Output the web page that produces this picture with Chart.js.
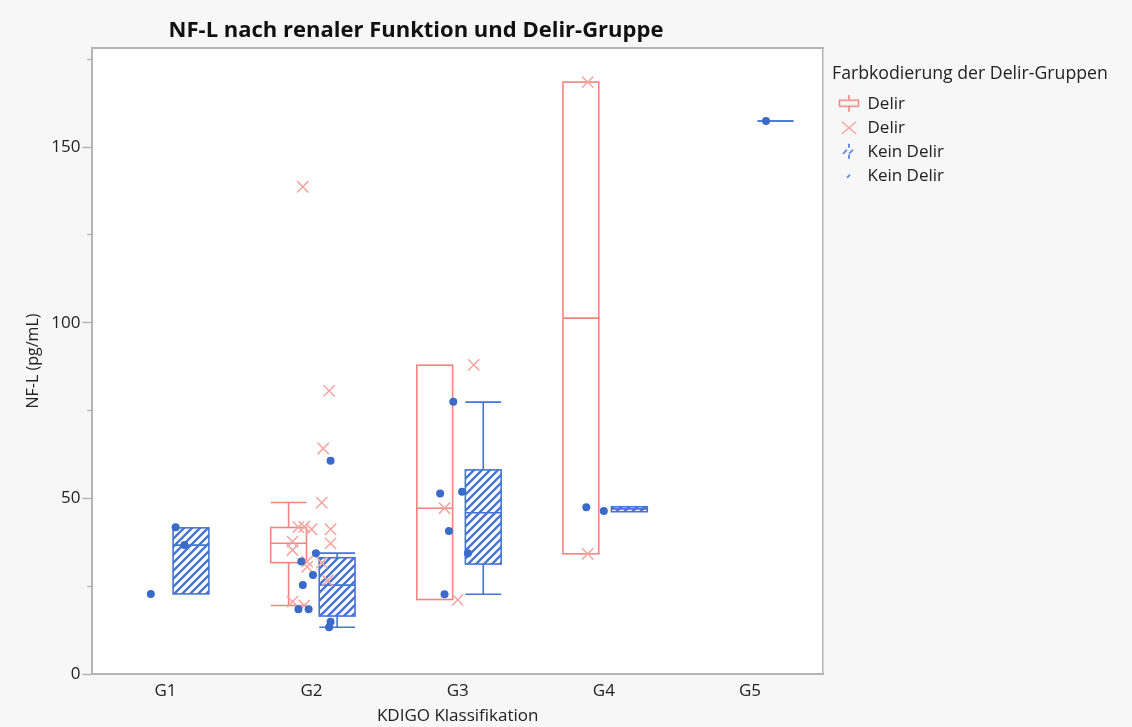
<!DOCTYPE html>
<html>
<head>
<meta charset="utf-8">
<script src="https://cdn.jsdelivr.net/npm/chart.js@4"></script>
<style>
  html, body { margin: 0; padding: 0; background: #f7f7f7; }
</style>
</head>
<body>
<canvas id="nfl" width="1132" height="727"></canvas>
<script>
const categories = ['G1', 'G2', 'G3', 'G4', 'G5'];
const yTicks = [0, 25, 50, 75, 100, 125, 150, 175];
const yLabelled = [0, 50, 100, 150];

// Box statistics per KDIGO class (null = no patients in that group)
const delirLowWhisker = [null, 19.5, 21.2, 34.2, null];
const delirQ1 = [null, 31.7, 21.2, 34.2, null];
const delirMedian = [null, 37.2, 47.2, 101.3, null];
const delirQ3 = [null, 41.7, 87.9, 168.5, null];
const delirHighWhisker = [null, 48.8, 87.9, 168.5, null];

const keinLowWhisker = [22.8, 13.3, 22.7, 46.2, 157.4];
const keinQ1 = [22.8, 16.5, 31.3, 46.2, 157.4];
const keinMedian = [36.7, 25.3, 45.9, 47.0, 157.4];
const keinQ3 = [41.6, 33.1, 58.1, 47.6, 157.4];
const keinHighWhisker = [41.6, 34.4, 77.4, 47.6, 157.4];

// single patients: KDIGO class (1 = G1), horizontal jitter, NF-L value
const delirClass = [2, 2, 2, 2, 2, 2, 2, 2, 2, 2, 2, 2, 2, 2, 2, 2, 2, 3, 3, 3, 4, 4];
const delirJitter = [-0.06, 0.12, 0.08, 0.07, -0.09, -0.05, 0.00, 0.13, -0.13, -0.13, 0.13, -0.03, 0.07, -0.03, 0.11, -0.13, -0.05, 0.11, -0.09, 0.00, -0.11, -0.11];
const delirValues = [138.7, 80.6, 64.2, 48.8, 41.8, 41.9, 41.2, 41.2, 37.7, 35.3, 37.2, 32.0, 31.7, 30.5, 26.6, 20.6, 19.5, 88.0, 47.2, 21.1, 168.5, 34.2];

const keinClass = [1, 1, 1, 2, 2, 2, 2, 2, 2, 2, 2, 2, 3, 3, 3, 3, 3, 3, 4, 4, 5];
const keinJitter = [-0.10, 0.07, 0.13, 0.13, 0.03, -0.07, 0.01, -0.06, -0.09, -0.02, 0.13, 0.12, -0.03, -0.12, 0.03, -0.06, 0.07, -0.09, -0.12, 0.00, 0.11];
const keinValues = [22.8, 41.8, 36.7, 60.7, 34.4, 32.0, 28.2, 25.3, 18.4, 18.4, 14.9, 13.3, 77.5, 51.4, 51.9, 40.7, 34.4, 22.7, 47.5, 46.4, 157.4];

const RED_BOX = '#f2847f';
const RED_MARK = '#f6a4a0';
const BLUE = '#4574d4';
const BLUE_DOT = '#3a6bc8';
const FRAME = '#b4b4b4';
const TEXT = '#222222';
const FONT = '"Open Sans", "Noto Sans", sans-serif';

const DELIR_SHIFT = -0.157;
const KEIN_SHIFT = 0.175;
const BOX_WIDTH = 0.245;
const LEGEND_WIDTH = 290;

Chart.defaults.font.family = FONT;
Chart.defaults.color = TEXT;

function makeIcon(w, h, draw) {
  const c = document.createElement('canvas');
  c.width = w;
  c.height = h;
  draw(c.getContext('2d'));
  return c;
}

const iconDelirBox = makeIcon(22, 18, g => {
  g.strokeStyle = RED_BOX;
  g.lineWidth = 1.5;
  g.strokeRect(1.5, 5.5, 19, 6);
  g.beginPath();
  g.moveTo(11, 0); g.lineTo(11, 5.5);
  g.moveTo(11, 11.5); g.lineTo(11, 17);
  g.stroke();
});

const iconKeinBox = makeIcon(22, 18, g => {
  g.strokeStyle = BLUE;
  g.lineWidth = 1.6;
  g.beginPath();
  g.moveTo(11, 1); g.lineTo(11, 5);
  g.moveTo(11, 12); g.lineTo(11, 16);
  g.moveTo(5, 11); g.lineTo(9, 7);
  g.moveTo(11, 11); g.lineTo(15, 7);
  g.stroke();
});

const iconKeinDot = makeIcon(22, 18, g => {
  g.strokeStyle = BLUE;
  g.lineWidth = 1.6;
  g.beginPath();
  g.moveTo(9, 11); g.lineTo(12, 8);
  g.stroke();
});

const legendItems = [
  { text: 'Delir', pointStyle: iconDelirBox, lineWidth: 0, strokeStyle: RED_BOX, fillStyle: RED_BOX, fontColor: TEXT, hidden: false },
  { text: 'Delir', pointStyle: 'crossRot', lineWidth: 1.5, strokeStyle: RED_MARK, fillStyle: 'transparent', fontColor: TEXT, hidden: false },
  { text: 'Kein Delir', pointStyle: iconKeinBox, lineWidth: 0, strokeStyle: BLUE, fillStyle: BLUE, fontColor: TEXT, hidden: false },
  { text: 'Kein Delir', pointStyle: iconKeinDot, lineWidth: 0, strokeStyle: BLUE, fillStyle: BLUE, fontColor: TEXT, hidden: false }
];

let hatch = null;
function hatchPattern(ctx) {
  if (hatch) return hatch;
  const c = makeIcon(8, 8, g => {
    g.fillStyle = '#ffffff';
    g.fillRect(0, 0, 8, 8);
    g.strokeStyle = BLUE;
    g.lineWidth = 2.3;
    g.beginPath();
    g.moveTo(-2, 10); g.lineTo(10, -2);
    g.moveTo(-2, 2); g.lineTo(2, -2);
    g.moveTo(6, 10); g.lineTo(10, 6);
    g.stroke();
  });
  hatch = ctx.createPattern(c, 'repeat');
  return hatch;
}

const delirStats = { low: delirLowWhisker, q1: delirQ1, median: delirMedian, q3: delirQ3, high: delirHighWhisker };
const keinStats = { low: keinLowWhisker, q1: keinQ1, median: keinMedian, q3: keinQ3, high: keinHighWhisker };

function drawBoxes(chart, stats, shift, stroke, fill) {
  const { ctx, scales: { x, y } } = chart;
  const half = (x.getPixelForValue(1 + BOX_WIDTH) - x.getPixelForValue(1)) / 2;
  stats.q1.forEach((q1, i) => {
    if (q1 === null) return;
    const cx = x.getPixelForValue(i + 1 + shift);
    const left = cx - half;
    const right = cx + half;
    const top = y.getPixelForValue(stats.q3[i]);
    const bottom = y.getPixelForValue(q1);
    const med = y.getPixelForValue(stats.median[i]);
    const hi = y.getPixelForValue(stats.high[i]);
    const lo = y.getPixelForValue(stats.low[i]);
    ctx.save();
    ctx.strokeStyle = stroke;
    ctx.lineWidth = 1.6;
    ctx.beginPath();
    if (hi < top - 0.5) {
      ctx.moveTo(cx, top); ctx.lineTo(cx, hi);
      ctx.moveTo(left, hi); ctx.lineTo(right, hi);
    }
    if (lo > bottom + 0.5) {
      ctx.moveTo(cx, bottom); ctx.lineTo(cx, lo);
      ctx.moveTo(left, lo); ctx.lineTo(right, lo);
    }
    ctx.stroke();
    if (fill) {
      ctx.fillStyle = fill;
      ctx.fillRect(left, top, right - left, bottom - top);
    }
    ctx.strokeRect(left, top, right - left, bottom - top);
    ctx.beginPath();
    ctx.moveTo(left, med); ctx.lineTo(right, med);
    ctx.stroke();
    ctx.restore();
  });
}

const plotBackground = {
  id: 'plotBackground',
  beforeDraw(chart) {
    const { ctx, chartArea: a } = chart;
    ctx.save();
    ctx.fillStyle = '#ffffff';
    ctx.fillRect(a.left, a.top, a.right - a.left, a.bottom - a.top);
    ctx.restore();
  }
};

// the legend box is sized from its items only, so widen it to hold the long title
const wideLegend = {
  id: 'wideLegend',
  beforeLayout(chart) {
    const lg = chart.legend;
    if (!lg || lg.wideFit) return;
    const fit = lg.fit.bind(lg);
    lg.fit = function () {
      fit();
      this.width = Math.max(this.width, LEGEND_WIDTH);
    };
    lg.wideFit = true;
  }
};

const boxPlots = {
  id: 'boxPlots',
  beforeDatasetsDraw(chart) {
    drawBoxes(chart, delirStats, DELIR_SHIFT, RED_BOX, null);
    drawBoxes(chart, keinStats, KEIN_SHIFT, BLUE, hatchPattern(chart.ctx));
  }
};

const mainTitle = {
  id: 'mainTitle',
  afterDraw(chart) {
    const { ctx, chartArea, legend } = chart;
    ctx.save();
    ctx.font = 'bold 22px ' + FONT;
    ctx.fillStyle = '#111111';
    ctx.textAlign = 'center';
    ctx.textBaseline = 'middle';
    ctx.fillText('NF-L nach renaler Funktion und Delir-Gruppe', legend.left / 2, chartArea.top - 17);
    ctx.restore();
  }
};

new Chart('nfl', {
  type: 'scatter',
  data: {
    datasets: [
      {
        label: 'Kein Delir',
        data: keinValues.map((v, i) => ({ x: keinClass[i] + keinJitter[i], y: v })),
        pointStyle: 'circle',
        pointRadius: 4,
        pointHoverRadius: 4,
        backgroundColor: BLUE_DOT,
        borderColor: BLUE_DOT,
        borderWidth: 0
      },
      {
        label: 'Delir',
        data: delirValues.map((v, i) => ({ x: delirClass[i] + delirJitter[i], y: v })),
        pointStyle: 'crossRot',
        pointRadius: 8,
        pointHoverRadius: 8,
        backgroundColor: 'transparent',
        borderColor: RED_MARK,
        borderWidth: 1.5
      }
    ]
  },
  options: {
    responsive: false,
    animation: false,
    devicePixelRatio: 1,
    layout: { padding: { left: 20, right: 1132 - 832 - LEGEND_WIDTH, top: 48, bottom: 2 } },
    plugins: {
      tooltip: { enabled: false },
      legend: {
        position: 'right',
        align: 'start',
        title: {
          display: true,
          text: 'Farbkodierung der Delir-Gruppen',
          position: 'start',
          color: TEXT,
          font: { size: 17.7 },
          padding: { top: 17, bottom: 2 }
        },
        labels: {
          usePointStyle: true,
          pointStyleWidth: 20,
          boxHeight: 12,
          padding: 7,
          color: TEXT,
          font: { size: 17 },
          generateLabels: () => legendItems
        }
      }
    },
    scales: {
      x: {
        type: 'linear',
        min: 0.5,
        max: 5.5,
        afterBuildTicks: s => { s.ticks = categories.map((c, i) => ({ value: i + 1 })); },
        ticks: { callback: v => categories[v - 1], font: { size: 17, lineHeight: 1 }, padding: 8.5, autoSkip: false, maxRotation: 0 },
        grid: { display: false, drawTicks: false },
        border: { color: FRAME, width: 2 },
        title: { display: true, text: 'KDIGO Klassifikation', font: { size: 17, lineHeight: 1 }, padding: { top: 0, bottom: 0 } }
      },
      y: {
        min: 0,
        max: 178.2,
        afterBuildTicks: s => { s.ticks = yTicks.map(v => ({ value: v })); },
        ticks: { callback: v => (yLabelled.includes(v) ? v : ''), font: { size: 17 }, padding: 2, autoSkip: false },
        grid: {
          drawOnChartArea: false,
          tickLength: 10,
          tickColor: FRAME,
          tickWidth: 1.5,
          tickBorderDash: c => (c.tick && !yLabelled.includes(c.tick.value) ? [5, 5] : []),
          tickBorderDashOffset: c => (c.tick && !yLabelled.includes(c.tick.value) ? 5 : 0)
        },
        border: { color: FRAME, width: 2 },
        title: { display: true, text: 'NF-L (pg/mL)', font: { size: 16 }, padding: { top: 4, bottom: 6 } }
      },
      xTop: {
        type: 'linear',
        axis: 'x',
        position: 'top',
        min: 0.5,
        max: 5.5,
        grid: { display: false, drawTicks: false },
        ticks: { display: false },
        border: { color: FRAME, width: 2 },
        afterFit: s => { s.height = 0; }
      },
      yRight: {
        type: 'linear',
        axis: 'y',
        position: 'right',
        grid: { display: false, drawTicks: false },
        ticks: { display: false },
        border: { color: FRAME, width: 1.5 },
        afterFit: s => { s.width = 9; }
      }
    }
  },
  plugins: [plotBackground, wideLegend, boxPlots, mainTitle]
});
</script>
</body>
</html>
